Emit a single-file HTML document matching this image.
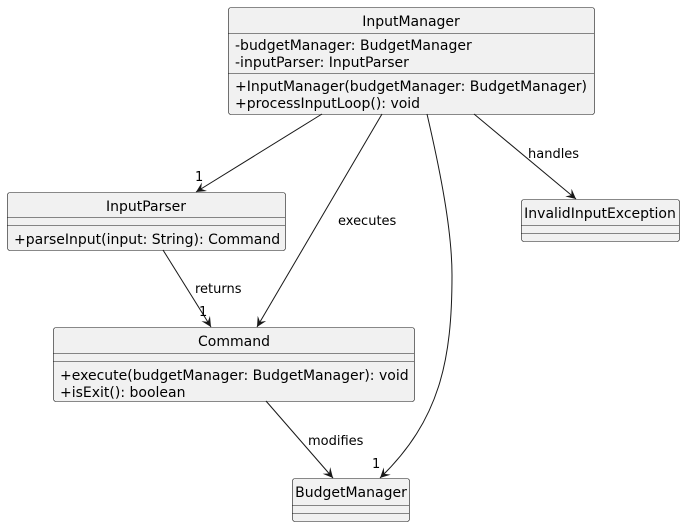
<!DOCTYPE html>
<html><head><meta charset="utf-8"><style>
html,body{margin:0;padding:0;background:#fff;}
svg text{font-family:"DejaVu Sans","Liberation Sans",sans-serif;fill:#000;}
</style></head><body>
<svg width="685" height="527" viewBox="0 0 685 527" xmlns="http://www.w3.org/2000/svg">
<defs>
<marker id="a" markerUnits="userSpaceOnUse" markerWidth="12" markerHeight="10" refX="10" refY="5" orient="auto">
<path d="M0,0 L10,5 L0,10 L4,5 Z" fill="#181818"/>
</marker>
</defs>
<g fill="#F1F1F1" stroke="#181818" stroke-width="0.6">
<rect x="228.5" y="7.5" width="366" height="107" rx="2.5"/>
<rect x="7.5" y="192.5" width="278" height="58" rx="2.5"/>
<rect x="53.5" y="327.5" width="361" height="74" rx="2.5"/>
<rect x="292.5" y="478.5" width="117" height="43" rx="2.5"/>
<rect x="521.5" y="199.5" width="158" height="42" rx="2.5"/>
</g>
<g stroke="#181818" stroke-width="0.6">
<line x1="228" y1="33.5" x2="594" y2="33.5"/>
<line x1="228" y1="73.5" x2="594" y2="73.5"/>
<line x1="7" y1="217.5" x2="285" y2="217.5"/>
<line x1="7" y1="225.5" x2="285" y2="225.5"/>
<line x1="53" y1="353.5" x2="414" y2="353.5"/>
<line x1="53" y1="361.5" x2="414" y2="361.5"/>
<line x1="292" y1="505.5" x2="409" y2="505.5"/>
<line x1="292" y1="513.5" x2="409" y2="513.5"/>
<line x1="521" y1="225.5" x2="679" y2="225.5"/>
<line x1="521" y1="233.5" x2="679" y2="233.5"/>
</g>
<g font-size="14" text-anchor="middle">
<text x="411" y="26">InputManager</text>
<text x="146" y="211">InputParser</text>
<text x="234" y="346">Command</text>
<text x="351" y="497">BudgetManager</text>
<text x="600" y="218">InvalidInputException</text>
</g>
<g font-size="14">
<text x="235" y="50">-budgetManager: BudgetManager</text>
<text x="235" y="67">-inputParser: InputParser</text>
<text x="235" y="91">+InputManager(budgetManager: BudgetManager)</text>
<text x="235" y="108">+processInputLoop(): void</text>
<text x="14" y="244">+parseInput(input: String): Command</text>
<text x="60" y="380">+execute(budgetManager: BudgetManager): void</text>
<text x="60" y="397">+isExit(): boolean</text>
</g>
<g stroke="#181818" stroke-width="1" fill="none" marker-end="url(#a)">
<line x1="322" y1="114" x2="196" y2="192"/>
<line x1="382" y1="114" x2="257" y2="327"/>
<path d="M427,114 C440,170 452,230 452,275 C452,360 440,420 380,478"/>
<line x1="474" y1="114" x2="576" y2="199"/>
<line x1="163" y1="250" x2="211" y2="327"/>
<line x1="266" y1="401" x2="333" y2="478"/>
</g>
<g font-size="13">
<text x="338" y="225">executes</text>
<text x="528" y="158">handles</text>
<text x="195" y="293">returns</text>
<text x="308" y="445">modifies</text>
<text x="195" y="181">1</text>
<text x="199" y="316">1</text>
<text x="372" y="468">1</text>
</g>
</svg>
</body></html>
